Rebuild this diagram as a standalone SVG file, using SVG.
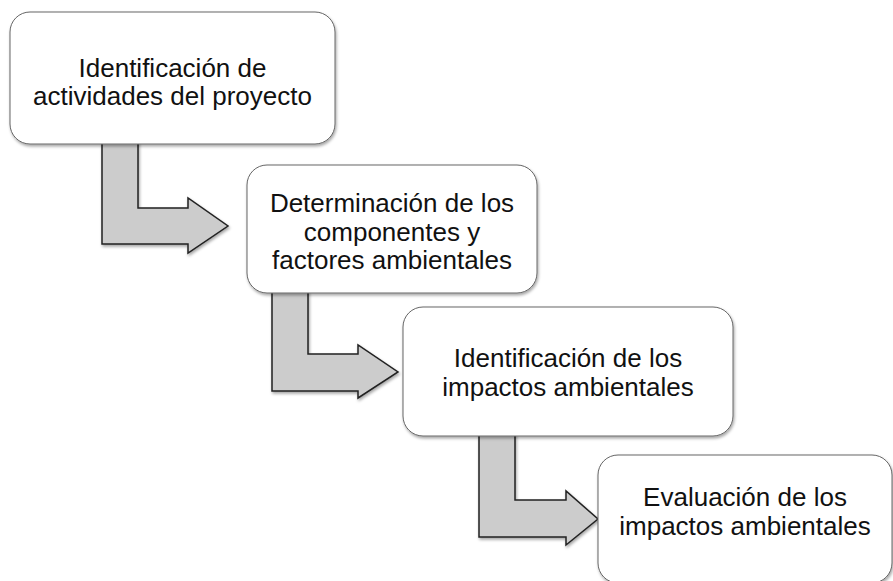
<svg xmlns="http://www.w3.org/2000/svg" width="893" height="581" viewBox="0 0 893 581">
<defs>
<filter id="sh" x="-10%" y="-10%" width="130%" height="130%">
<feDropShadow dx="1" dy="2" stdDeviation="1.5" flood-color="#000" flood-opacity="0.35"/>
</filter>
<style>
.box{fill:#fff;stroke:#666;stroke-width:1;filter:url(#sh)}
.arr{fill:#cccccc;stroke:#222;stroke-width:1.5;stroke-linejoin:miter;filter:url(#sh)}
.t{font-family:"Liberation Sans",Arial,sans-serif;font-size:26px;fill:#111;text-anchor:middle}
</style>
</defs>
<rect width="893" height="581" fill="#fff"/>
<g id="connectors">
<path class="arr" d="M102,140 L138,140 L138,208 L188,208 L188,198 L228,226 L188,253 L188,244 L102,244 Z"/>
<path class="arr" d="M272,290 L308,290 L308,354 L358,354 L358,345 L398,372 L358,398 L358,391 L272,391 Z"/>
<path class="arr" d="M479,432 L515,432 L515,500 L566,500 L566,491 L598,519 L566,545 L566,537 L479,537 Z"/>
</g>
<g id="node1">
<rect class="box" x="10" y="12" width="325" height="132" rx="20"/>
<text class="t" x="172.5" y="77">Identificación de</text>
<text class="t" x="172.5" y="105">actividades del proyecto</text>
</g>
<g id="node2">
<rect class="box" x="247" y="165" width="290" height="128" rx="20"/>
<text class="t" x="392" y="212">Determinación de los</text>
<text class="t" x="392" y="241">componentes y</text>
<text class="t" x="392" y="269">factores ambientales</text>
</g>
<g id="node3">
<rect class="box" x="403" y="307" width="330" height="129" rx="20"/>
<text class="t" x="568" y="367">Identificación de los</text>
<text class="t" x="568" y="396">impactos ambientales</text>
</g>
<g id="node4">
<rect class="box" x="598" y="455" width="294" height="128" rx="20"/>
<text class="t" x="745" y="506">Evaluación de los</text>
<text class="t" x="745" y="535">impactos ambientales</text>
</g>
</svg>
